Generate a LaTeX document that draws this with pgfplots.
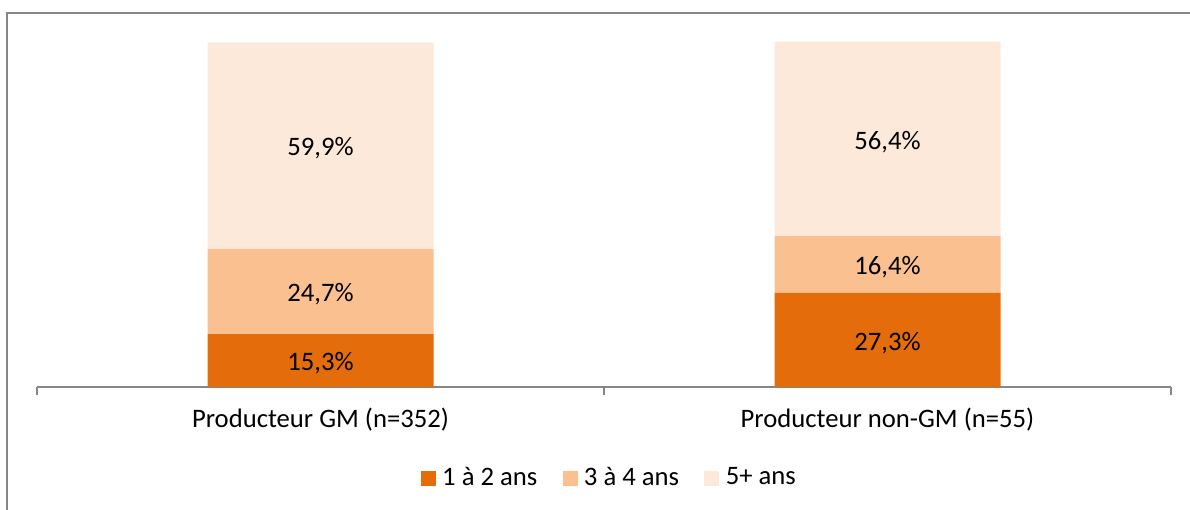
\documentclass[border=0pt]{standalone}
\usepackage{fontspec}
\setmainfont{Carlito}
\usepackage{pgfplots}
\usepackage{pgfplotstable}
\pgfplotsset{compat=1.18}

\definecolor{ageA}{RGB}{228,108,10}
\definecolor{ageB}{RGB}{250,192,144}
\definecolor{ageC}{RGB}{253,233,217}
\definecolor{linegray}{RGB}{134,134,134}

% x: 0 = Producteur GM, 1 = Producteur non-GM
\pgfplotstableread{
x v lab
0 15.3 15,3
1 27.3 27,3
}\tabA
\pgfplotstableread{
x v lab
0 24.7 24,7
1 16.4 16,4
}\tabB
\pgfplotstableread{
x v lab
0 59.9 59,9
1 56.4 56,4
}\tabC

\begin{document}
\fontsize{20}{24}\selectfont
\begin{tikzpicture}
% 1 px = 0.75pt, picture 1190 x 510 px
\path[use as bounding box] (0pt,0pt) rectangle (892.5pt,-382.5pt);
\draw[linegray, line width=1pt] (5.25pt,-382.5pt) -- (5.25pt,-9.75pt) -- (892.5pt,-9.75pt);
\begin{axis}[
  at={(27.75pt,-290.25pt)}, anchor=south west,
  scale only axis,
  width=850.5pt, height=259.27pt,
  xmin=-0.5, xmax=1.5,
  ymin=0, ymax=100.2,
  ybar stacked,
  bar width=169.5pt,
  hide y axis,
  axis x line*=bottom,
  axis line style={linegray, line width=1pt},
  xtick={0,1},
  xticklabels={Producteur GM (n=352), Producteur non-GM (n=55)},
  major tick length=0pt,
  xticklabel style={anchor=base, yshift=-30pt},
  extra x ticks={-0.5,0.5,1.5},
  extra x tick labels={},
  extra x tick style={major tick length=6pt, tick align=outside,
    tick style={linegray, line width=1pt}},
  point meta=explicit symbolic,
  nodes near coords={\pgfplotspointmeta\%},
  every node near coord/.append style={anchor=center, text=black, yshift=-2.2pt},
  legend columns=3,
  legend style={at={(0.505,-0.264)}, anchor=center, draw=none,
    /tikz/every even column/.append style={column sep=17pt}},
  legend image code/.code={\fill[#1] (0pt,-5.6pt) rectangle (11.25pt,5.6pt);
    \path (0pt,0pt) -- (14pt,0pt);},
]
\addplot[fill=ageA, draw=none] table[x=x, y=v, meta=lab] \tabA;
\addplot[fill=ageB, draw=none] table[x=x, y=v, meta=lab] \tabB;
\addplot[fill=ageC, draw=none] table[x=x, y=v, meta=lab] \tabC;
\legend{1 à 2 ans, 3 à 4 ans, 5+ ans}
\end{axis}
\end{tikzpicture}
\end{document}
